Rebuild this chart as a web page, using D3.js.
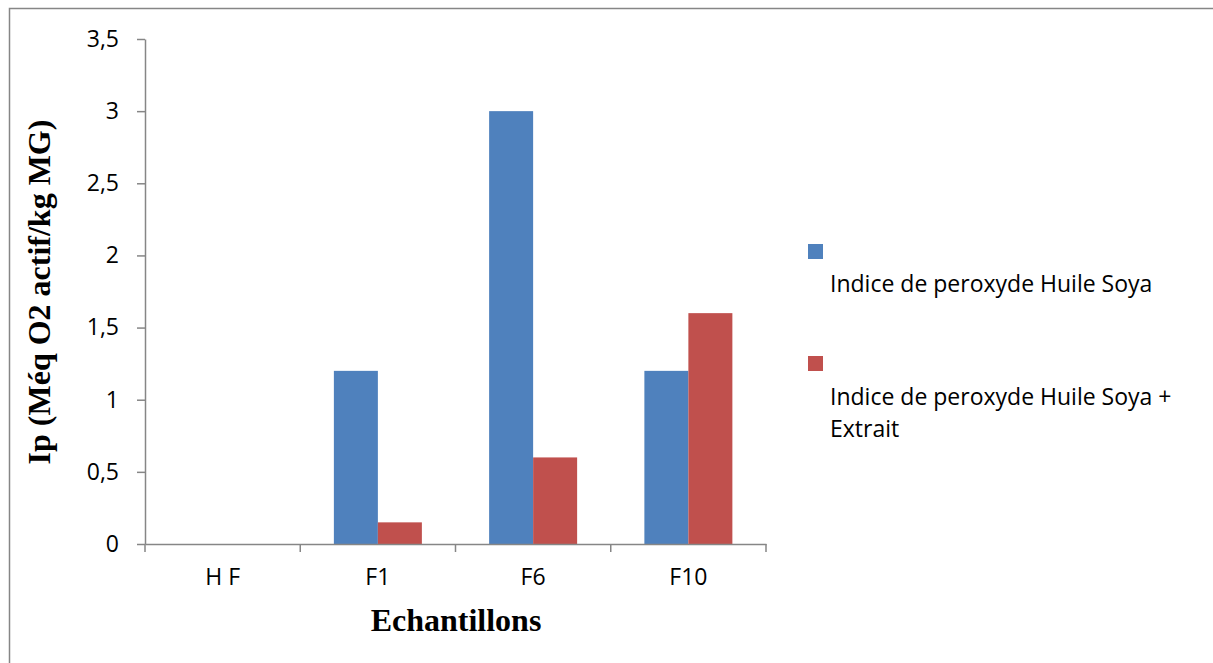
<!DOCTYPE html>
<html><head><meta charset="utf-8">
<script src="https://cdn.jsdelivr.net/npm/d3@7"></script>
<style>body{margin:0;background:#fff}svg{display:block}</style>
</head><body>
<script>
const categories = ["H F", "F1", "F6", "F10"];
const seriesNames = ["Indice de peroxyde Huile Soya", "Indice de peroxyde Huile Soya + Extrait"];
const soya = [0, 1.2, 3.0, 1.2];
const soyaExtrait = [0, 0.15, 0.6, 1.6];
const yTicks = [0, 0.5, 1, 1.5, 2, 2.5, 3, 3.5];
const colors = ["#4F81BD", "#C0504D"];

const W = 1213, H = 663;
const svg = d3.select("body").append("svg").attr("width", W).attr("height", H);
svg.append("rect").attr("x", 9.5).attr("y", 8.5).attr("width", W + 20).attr("height", H + 20)
  .attr("fill", "none").attr("stroke", "#868686").attr("stroke-width", 1.5);

const m = {left: 145, right: 766, top: 39, bottom: 544};
const x = d3.scaleBand().domain(categories).range([m.left, m.right]);
const y = d3.scaleLinear().domain([0, 3.5]).range([m.bottom, m.top]);
const barW = 44;
const series = [soya, soyaExtrait];

const g = svg.append("g");
series.forEach((vals, si) => {
  g.selectAll(null).data(categories).enter().append("rect")
    .attr("x", (c) => x(c) + x.bandwidth() / 2 - barW + si * barW)
    .attr("y", (c, i) => y(vals[i]))
    .attr("width", barW)
    .attr("height", (c, i) => y(0) - y(vals[i]))
    .attr("fill", colors[si]);
});

const tickFont = "'Open Sans', sans-serif";
const fmt = d => String(d).replace(".", ",");
const yAxis = svg.append("g").attr("transform", `translate(${m.left},0)`)
  .call(d3.axisLeft(y).tickValues(yTicks).tickFormat(fmt).tickSize(8).tickSizeOuter(0).tickPadding(18));
yAxis.select(".domain").attr("stroke", "#868686").attr("stroke-width", 1.5);
yAxis.selectAll(".tick line").attr("stroke", "#868686").attr("stroke-width", 1.5);
yAxis.selectAll("text").attr("font-family", tickFont).attr("font-size", 23).attr("fill", "#000");

const xAxis = svg.append("g").attr("transform", `translate(0,${m.bottom})`)
  .call(d3.axisBottom(x).tickSize(0).tickPadding(25));
xAxis.select(".domain").attr("stroke", "#868686").attr("stroke-width", 1.5);
xAxis.selectAll("text").attr("font-family", tickFont).attr("font-size", 23).attr("fill", "#000");
const bounds = [m.left, ...categories.map(c => x(c) + x.bandwidth())];
xAxis.selectAll(".sep").data(bounds).enter().append("line").attr("class", "sep")
  .attr("x1", d => d).attr("x2", d => d).attr("y1", 0).attr("y2", 8)
  .attr("stroke", "#868686").attr("stroke-width", 1.5);

svg.append("text").attr("x", 456).attr("y", 631).attr("text-anchor", "middle")
  .attr("font-family", "'Liberation Serif', serif").attr("font-weight", "bold").attr("font-size", 32)
  .text("Echantillons");
svg.append("text").attr("transform", "translate(50,292) rotate(-90)").attr("text-anchor", "middle")
  .attr("font-family", "'Liberation Serif', serif").attr("font-weight", "bold").attr("font-size", 32)
  .text("Ip (Méq O2 actif/kg MG)");

const leg = svg.append("g");
const legItems = [
  {sq: 244, lines: [seriesNames[0]], ty: 292},
  {sq: 356, lines: ["Indice de peroxyde Huile Soya +", "Extrait"], ty: 405}
];
legItems.forEach((it, i) => {
  leg.append("rect").attr("x", 808).attr("y", it.sq).attr("width", 15).attr("height", 15).attr("fill", colors[i]);
  it.lines.forEach((t, j) => {
    leg.append("text").attr("x", 830).attr("y", it.ty + j * 32)
      .attr("font-family", tickFont).attr("font-size", 23).text(t);
  });
});
</script>
</body></html>
